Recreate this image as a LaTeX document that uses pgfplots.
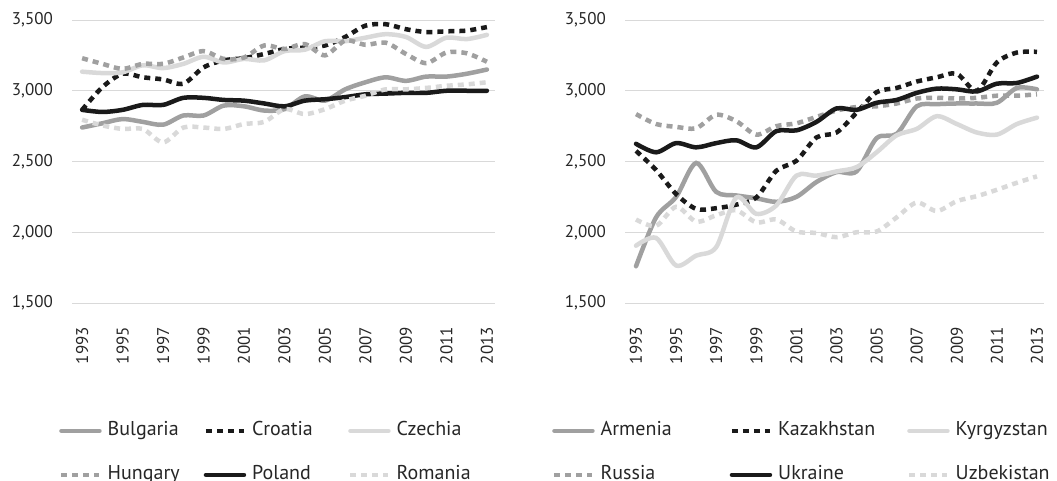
\documentclass[border=0pt]{standalone}
\usepackage{fontspec}
\setmainfont{PT Sans}
\usepackage{pgfplots}
\usepackage{pgfplotstable}
\pgfplotsset{compat=1.18}
\definecolor{cblack}{HTML}{1A1A1A}
\definecolor{cmid}{HTML}{A0A0A0}
\definecolor{clight}{HTML}{D9D9D9}
\definecolor{cgrid}{HTML}{D9D9D9}
\definecolor{ctext}{HTML}{262626}

\pgfplotstableread{
year Bul Cro Cze Hun Pol Rom
1993 2740 2865 3135 3230 2865 2795
1994 2770 3025 3125 3190 2850 2755
1995 2800 3120 3130 3155 2865 2730
1996 2780 3095 3180 3190 2900 2730
1997 2760 3080 3160 3190 2900 2635
1998 2825 3050 3190 3235 2950 2740
1999 2825 3165 3240 3280 2950 2740
2000 2895 3215 3200 3225 2935 2730
2001 2890 3230 3225 3235 2930 2765
2002 2860 3260 3215 3320 2910 2780
2003 2870 3295 3280 3295 2890 2870
2004 2960 3305 3290 3330 2930 2835
2005 2930 3320 3350 3250 2940 2870
2006 3010 3380 3350 3355 2955 2930
2007 3060 3460 3375 3325 2975 2965
2008 3095 3470 3400 3340 2980 3010
2009 3070 3435 3380 3260 2985 3010
2010 3100 3415 3310 3195 2985 3020
2011 3100 3420 3375 3270 3000 3035
2012 3120 3425 3365 3265 3000 3045
2013 3150 3450 3395 3205 3000 3060
}\tabL

\pgfplotstableread{
year Arm Kaz Kyr Rus Ukr Uzb
1993 1760 2575 1905 2835 2625 2090
1994 2105 2440 1960 2765 2565 2045
1995 2250 2270 1765 2745 2630 2180
1996 2490 2165 1835 2735 2600 2075
1997 2285 2170 1895 2830 2630 2120
1998 2260 2195 2245 2785 2650 2155
1999 2240 2245 2130 2690 2600 2070
2000 2215 2435 2190 2750 2715 2090
2001 2250 2505 2400 2770 2720 2005
2002 2355 2670 2400 2815 2780 1995
2003 2425 2705 2430 2860 2875 1965
2004 2430 2845 2460 2885 2865 2000
2005 2665 2990 2565 2890 2915 2005
2006 2695 3020 2685 2910 2935 2105
2007 2890 3065 2730 2945 2985 2210
2008 2905 3095 2820 2950 3015 2150
2009 2910 3120 2765 2945 3010 2220
2010 2910 3000 2705 2950 2995 2255
2011 2915 3200 2690 2965 3050 2300
2012 3020 3270 2765 2965 3055 2350
2013 3010 3275 2810 2975 3100 2395
}\tabR

\pgfplotsset{
 myaxis/.style={
  scale only axis, height=283pt, ymin=1500, ymax=3500,
  ytick={1500,2000,2500,3000,3500}, xtick={1993,1995,...,2013},
  axis line style={draw=none}, major tick style={draw=none}, major tick length=0pt,
  ymajorgrids, grid style={draw=cgrid, line width=1pt},
  clip=false,
  tick label style={font=\fontsize{17}{20}\selectfont, text=ctext, /pgf/number format/assume math mode=true},
  yticklabel style={/pgf/number format/1000 sep={,}, anchor=east, inner sep=0pt, xshift=-19pt},
  xticklabel style={/pgf/number format/1000 sep={}, yshift=-24pt, rotate=90, anchor=east, inner sep=0pt},
  legend columns=3,
  legend cell align=left,
  legend image code/.code={\draw[##1] (1pt,0pt) -- (39pt,0pt);},
  legend style={draw=none, fill=none, font=\fontsize{20}{24}\selectfont, text=ctext, anchor=north west, inner sep=0pt, nodes={inner sep=0pt, text height=15pt, text depth=5pt}, row sep=24pt, /tikz/every odd column/.style={column sep=6pt}},
 },
 sol/.style={line width=4.5pt, line cap=round, smooth, tension=0.5, mark=none},
 dot/.style={line width=4.5pt, line cap=butt, dash pattern=on 6pt off 5pt, smooth, tension=0.5, mark=none},
}

\begin{document}
\begin{tikzpicture}
\path[use as bounding box] (0,0) rectangle (1057pt,480pt);
\begin{axis}[myaxis, at={(72pt,177pt)}, anchor=south west, width=423pt,
  xmin=1992.5, xmax=2013.4,
  legend style={at={(-0.0307,-0.416)}}]
\addplot[sol, color=cmid] table[x=year,y=Bul]{\tabL};
\addlegendentry{\makebox[96pt][l]{Bulgaria}}
\addplot[dot, color=cblack] table[x=year,y=Cro]{\tabL};
\addlegendentry{\makebox[96pt][l]{Croatia}}
\addplot[sol, color=clight] table[x=year,y=Cze]{\tabL};
\addlegendentry{\makebox[96pt][l]{Czechia}}
\addplot[dot, color=cmid] table[x=year,y=Hun]{\tabL};
\addlegendentry{\makebox[96pt][l]{Hungary}}
\addplot[sol, color=cblack] table[x=year,y=Pol]{\tabL};
\addlegendentry{\makebox[96pt][l]{Poland}}
\addplot[dot, color=clight] table[x=year,y=Rom]{\tabL};
\addlegendentry{\makebox[96pt][l]{Romania}}
\end{axis}
\begin{axis}[myaxis, at={(625pt,177pt)}, anchor=south west, width=419pt,
  xmin=1992.45, xmax=2013.35,
  legend style={at={(-0.1742,-0.416)}}]
\addplot[sol, color=cmid] table[x=year,y=Arm]{\tabR};
\addlegendentry{\makebox[129pt][l]{Armenia}}
\addplot[dot, color=cblack] table[x=year,y=Kaz]{\tabR};
\addlegendentry{\makebox[129pt][l]{Kazakhstan}}
\addplot[sol, color=clight] table[x=year,y=Kyr]{\tabR};
\addlegendentry{\makebox[129pt][l]{Kyrgyzstan}}
\addplot[dot, color=cmid] table[x=year,y=Rus]{\tabR};
\addlegendentry{\makebox[129pt][l]{Russia}}
\addplot[sol, color=cblack] table[x=year,y=Ukr]{\tabR};
\addlegendentry{\makebox[129pt][l]{Ukraine}}
\addplot[dot, color=clight] table[x=year,y=Uzb]{\tabR};
\addlegendentry{\makebox[129pt][l]{Uzbekistan}}
\end{axis}
\end{tikzpicture}
\end{document}
